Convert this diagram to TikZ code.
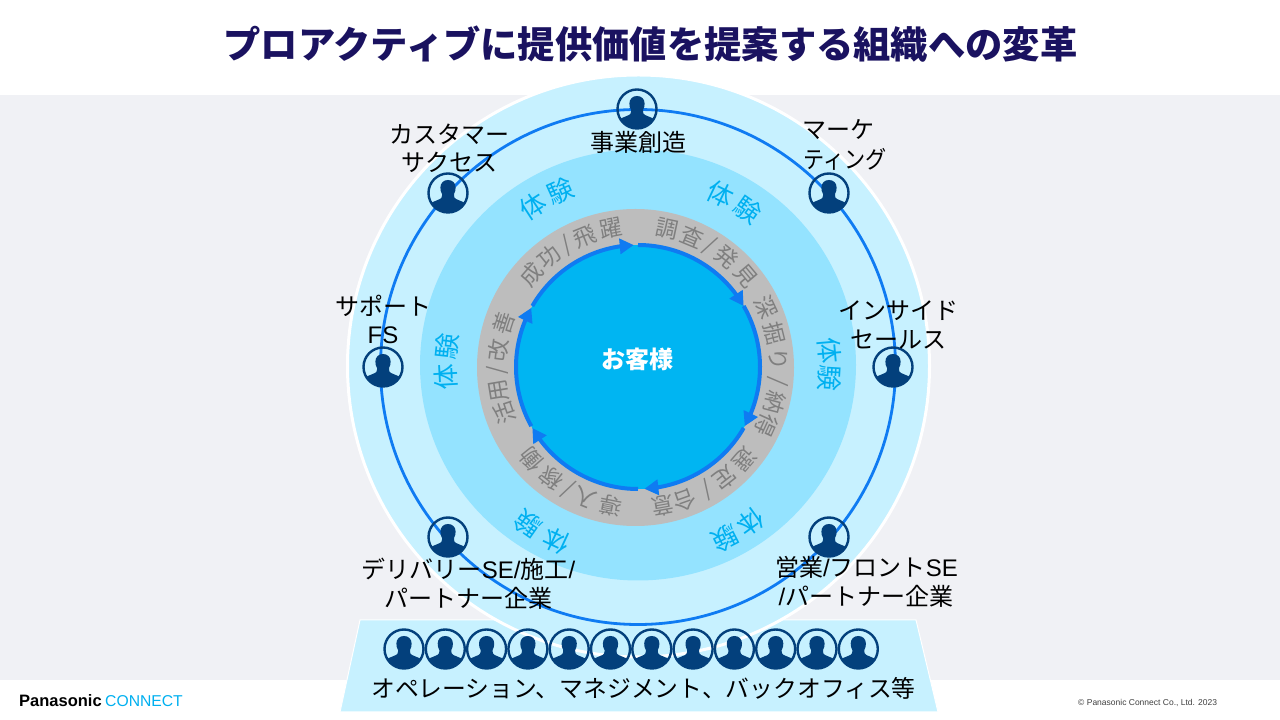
\documentclass[tikz,border=0pt]{standalone}
\usepackage{fontspec}
\usetikzlibrary{arrows.meta,bending}
\setmainfont{Noto Sans CJK JP}
\newfontfamily\lat{Liberation Sans}
\definecolor{titlenavy}{HTML}{1A1260}
\definecolor{pagegrey}{HTML}{F0F1F5}
\definecolor{paleblue}{HTML}{C7F1FF}
\definecolor{midblue}{HTML}{94E3FF}
\definecolor{coreblue}{HTML}{00B5F2}
\definecolor{arcblue}{HTML}{0F7BF2}
\definecolor{ringgrey}{HTML}{BDBDBD}
\definecolor{textgrey}{HTML}{7F7F7F}
\definecolor{iconnavy}{HTML}{03407C}
\definecolor{cyantext}{HTML}{00B0F0}
\tikzset{
  x=1pt,y=1pt,
  lbl/.style={font=\fontsize{24}{24}\selectfont,inner sep=0pt,text=black},
  graytxt/.style={font=\fontsize{22.5}{22.5}\selectfont,inner sep=0pt,text=textgrey},
  expt/.style={font=\fontsize{26}{26}\selectfont,inner sep=0pt,text=cyantext},
  cyclearc/.style={arcblue,line width=4pt,-{Triangle[length=14pt,width=15pt,flex]}},
  person/.pic={
    \begin{scope}
      \clip (0,0) circle (19.5);
      \fill[iconnavy] (-21,-11.5) -- (-8,-6) .. controls (-6.4,-5) and (-6,-4) .. (-6,-2.5) -- (-6,-1)
        .. controls (-7.2,1) and (-7.6,3) .. (-7.6,5.5) .. controls (-7.6,10) and (-4.4,13) .. (0,13)
        .. controls (4.4,13) and (7.6,10) .. (7.6,5.5) .. controls (7.6,3) and (7.2,1) .. (6,-1)
        -- (6,-2.5) .. controls (6,-4) and (6.4,-5) .. (8,-6) -- (21,-11.5) -- (21,-21) -- (-21,-21) -- cycle;
    \end{scope}
    \draw[iconnavy,line width=2.4pt] (0,0) circle (19.5);
  }
}
% centre of the rings: (638,353) with y counted from the bottom
\newcommand{\ringtext}[3]{%
  \foreach \ang/\ch in {#3}{%
    \node[#2,rotate=-\ang] at ({638+#1*sin(\ang)},{353+#1*cos(\ang)}) {\ch};
  }}
\begin{document}
\begin{tikzpicture}
\useasboundingbox (0,0) rectangle (1280,720);
\fill[white] (0,0) rectangle (1280,720);
\fill[pagegrey] (0,40) rectangle (1280,625);
% trapezoid
\path[fill=paleblue,draw=white,line width=1pt] (360,100) -- (916,100) -- (938,8) -- (340,8) -- cycle;
% rings
\path[fill=paleblue,draw=white,line width=3pt] (638.5,354) circle (291);
\draw[arcblue,line width=2.8pt] (638,353) circle (257.5);
\path[fill=midblue] (638,355) ellipse [x radius=218,y radius=215.5];
\path[fill=ringgrey] (635.5,352.5) circle (158.5);
\node[circle,minimum size=244pt,inner sep=0pt,fill=coreblue] (core) at (638,353) {};
% cycle arcs
\foreach \a/\b in {90/30,30/-29,-30/-87,-90/-150,-151/-209,-210/-268}{
  \draw[cyclearc] ({638+122*cos(\a)},{353+122*sin(\a)}) arc[start angle=\a,end angle=\b,radius=122];
}
% ring texts
\ringtext{141}{graytxt}{12/調,22.5/査,30.5/{/},39/発,50/見,65/深,76/掘,87/り,96/{/},104.5/納,114.5/得,131/選,142/定,150.5/{/},160.5/合,170/意,191/導,202/入,209.6/{/},218/稼,229/働,251/活,260.5/用,268.5/{/},277/改,288/善,311/成,321/功,329.5/{/},338/飛,349/躍}
\ringtext{192}{expt}{25.6/体,35/験,85/体,93.3/験,144/体,153/験,205/体,215/験,267/体,276/験,327/体,336/験}
\node[font=\fontsize{24}{24}\selectfont\bfseries,text=white,inner sep=0pt] (cust) at (637,361) {お客様};
% person icons
\pic at (637,611) {person};
\pic at (448,527) {person};
\pic at (829,527) {person};
\pic at (383,353) {person};
\pic at (893,353) {person};
\pic at (448,183) {person};
\pic at (829,183) {person};
\foreach \i in {0,...,11}{ \pic at ({404+41.3*\i},71) {person}; }
% labels
\node[lbl] (l1) at (638,578) {事業創造};
\node[lbl] (l2a) at (449,586) {カスタマー};
\node[lbl] (l2b) at (449,558) {サクセス};
\node[lbl] (l3a) at (838,590) {マーケ};
\node[lbl,xscale=.88] (l3b) at (845.5,561) {ティング};
\node[lbl] (l4a) at (383,414) {サポート};
\node[lbl] (l4b) at (383,385) {{\lat FS}};
\node[lbl] (l5a) at (898,409) {インサイド};
\node[lbl] (l5b) at (898,380) {セールス};
\node[lbl] (l6a) at (468.5,151) {デリバリー{\lat SE/}施工{\lat /}};
\node[lbl] (l6b) at (468,122) {パートナー企業};
\node[lbl] (l7a) at (866.5,153) {営業{\lat /}フロント{\lat SE}};
\node[lbl] (l7b) at (866,124) {{\lat /}パートナー企業};
\node[lbl,font=\fontsize{23.8}{24}\selectfont] (l8) at (643.5,32) {オペレーション、マネジメント、バックオフィス等};
% title
\node[font=\fontsize{37.3}{37.3}\selectfont\bfseries,text=titlenavy,inner sep=0pt] (title) at (650.5,676) {プロアクティブに提供価値を提案する組織への変革};
% footer
\node[font=\lat\bfseries\fontsize{16.5}{16.5}\selectfont,anchor=west,inner sep=0pt,text=black] (logoa) at (19,19) {Panasonic};
\node[font=\lat\fontsize{15.7}{15.7}\selectfont,anchor=west,inner sep=0pt,text=cyantext] (logob) at (105,19) {CONNECT};
\node[font=\lat\fontsize{8.5}{8.5}\selectfont,anchor=west,inner sep=0pt,text=black!75] (copy) at (1078,17) {© Panasonic Connect Co., Ltd. 2023};
\end{tikzpicture}
\end{document}
